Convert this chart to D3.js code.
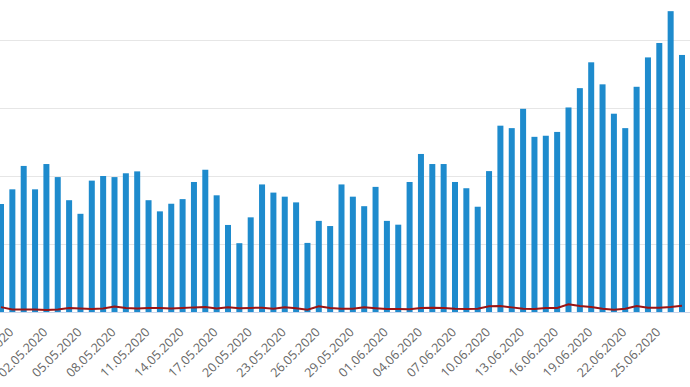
<!DOCTYPE html>
<meta charset="utf-8">
<style>
  body { margin: 0; background: #fff; }
  svg { display: block; font-family: "Open Sans", sans-serif; }
</style>
<body>
<script src="https://cdn.jsdelivr.net/npm/d3@7"></script>
<script>
var width = 690, height = 387;
var baseY = 312, topY = 40;

// daily values, 28.04.2020 .. 27.06.2020
var startDate = new Date(2020, 3, 28);
var cases = [397, 451, 537, 451, 544, 496, 411, 361, 483, 500,
             496, 510, 517, 411, 370, 398, 415, 478, 523, 429,
             320, 253, 348, 469, 439, 424, 403, 254, 335, 316,
             469, 424, 389, 460, 335, 321, 478, 581, 544, 544,
             478, 455, 387, 518, 685, 676, 747, 644, 648, 662,
             752, 823, 918, 837, 729, 676, 828, 936, 989, 1106, 945];
var deaths = [18, 9, 9, 9, 7, 9, 15, 13, 11, 13,
              20, 15, 13, 15, 15, 13, 15, 17, 18, 13,
              17, 14, 15, 16, 12, 17, 14, 8, 21, 15,
              12, 12, 17, 14, 11, 11, 10, 15, 16, 15,
              12, 11, 12, 21, 22, 17, 12, 11, 15, 15,
              28, 22, 18, 12, 8, 12, 22, 16, 16, 18, 23];
var gridValues = [250, 500, 750, 1000];

var dates = cases.map(function(d, i) { return d3.timeDay.offset(startDate, i); });
var fmt = d3.timeFormat("%d.%m.%Y");

var svg = d3.select("body").append("svg")
    .attr("width", width)
    .attr("height", height);

var step = 11.35;
var x = d3.scaleBand()
    .domain(dates)
    .range([1 - step / 2, 1 + (dates.length - 0.5) * step])
    .padding(0);

var y = d3.scaleLinear().domain([0, 1000]).range([baseY, topY]);

// grid lines
svg.append("g")
    .selectAll("line")
    .data(gridValues)
  .enter().append("line")
    .attr("x1", 0).attr("x2", width)
    .attr("y1", function(d) { return Math.round(y(d)) + 0.5; })
    .attr("y2", function(d) { return Math.round(y(d)) + 0.5; })
    .attr("stroke", "#e6e6e6");

// bars
var barW = 6;
svg.append("g")
    .selectAll("rect")
    .data(cases)
  .enter().append("rect")
    .attr("x", function(d, i) { return x(dates[i]) + x.bandwidth() / 2 - barW / 2; })
    .attr("y", function(d) { return y(d); })
    .attr("width", barW)
    .attr("height", function(d) { return baseY - y(d); })
    .attr("fill", "#1e8bcd");

// axis line
svg.append("line")
    .attr("x1", 0).attr("x2", width)
    .attr("y1", baseY + 0.5).attr("y2", baseY + 0.5)
    .attr("stroke", "#ccd6eb");

// deaths line
var line = d3.line()
    .x(function(d, i) { return x(dates[i]) + x.bandwidth() / 2; })
    .y(function(d) { return y(d); });

svg.append("path")
    .datum(deaths)
    .attr("d", line)
    .attr("fill", "none")
    .attr("stroke", "#9a1414")
    .attr("stroke-width", 2);

// x labels every 3 days, starting at 29.04
svg.append("g")
    .selectAll("text")
    .data(dates.filter(function(d, i) { return i % 3 === 1; }))
  .enter().append("text")
    .attr("transform", function(d) {
      return "translate(" + (x(d) + x.bandwidth() / 2 + 2) + "," + (baseY + 21) + ") rotate(-45)";
    })
    .attr("text-anchor", "end")
    .attr("fill", "#666666")
    .style("font-size", "12.5px")
    .text(function(d) { return fmt(d); });
</script>
</body>
